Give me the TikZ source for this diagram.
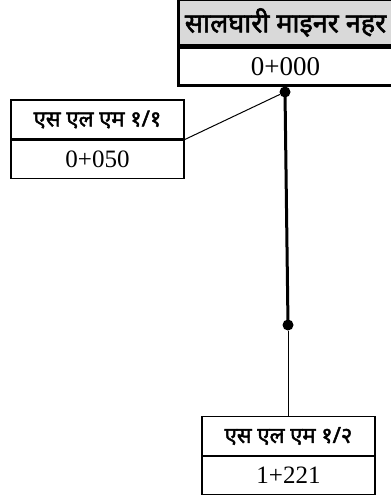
\documentclass[tikz,border=0pt]{standalone}
\usepackage{fontspec}
\setmainfont{Liberation Serif}
\newfontfamily\devfont[Script=Devanagari,AutoFakeBold=2]{Noto Sans}
\usetikzlibrary{positioning}
\definecolor{hdrbg}{HTML}{d9d9d9}

\begin{document}
\begin{tikzpicture}[x=1pt,y=-1pt,
canalhdr/.style = {draw, line width=2.5pt, fill=hdrbg, minimum width=214pt,
  minimum height=45pt, inner sep=0pt, font=\devfont\bfseries\fontsize{27}{30}\selectfont},
canalkm/.style = {draw, line width=2.5pt, fill=white, minimum width=214pt,
  minimum height=38pt, inner sep=0pt, font=\fontsize{27}{30}\selectfont},
outhdr/.style = {draw, line width=1.2pt, minimum width=173pt,
  minimum height=39pt, inner sep=0pt, font=\devfont\bfseries\fontsize{22}{26}\selectfont},
outkm/.style = {draw, line width=1.2pt, minimum width=173pt,
  minimum height=38pt, inner sep=0pt, font=\fontsize{25}{28}\selectfont},
junction/.style = {circle, fill=black, inner sep=0pt, minimum size=11pt}
]
\useasboundingbox (0,0) rectangle (391,501);

% main canal
\node [canalhdr] (canal) at (285.5,22.5) {सालघारी माइनर नहर};
\node [canalkm, below=0pt of canal] (canalkm) {0+000};

% outlets
\node [outhdr] (slm1) at (97.5,119.5) {एस एल एम १/१};
\node [outkm, below=0pt of slm1] (slm1km) {0+050};
\node [outhdr] (slm2) at (288.5,436) {एस एल एम १/२};
\node [outkm, below=0pt of slm2] (slm2km) {1+221};

% junctions on the canal line
\node [junction] (j1) at (285,92) {};
\node [junction] (j2) at (288,325) {};

\draw [line width=3pt] (canalkm.south -| j1) -- (j1.center) -- (j2.center);
\draw [line width=1pt] (j1) -- (slm1.south east);
\draw [line width=1pt] (j2) -- (slm2.north -| j2);

\end{tikzpicture}
\end{document}
